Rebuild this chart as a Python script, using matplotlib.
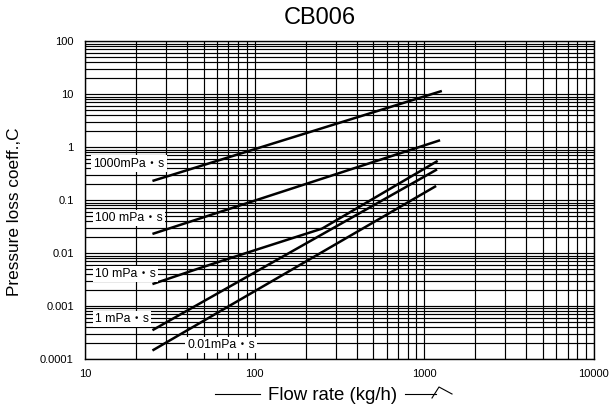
import numpy as np
import matplotlib
matplotlib.use('Agg')
import matplotlib.pyplot as plt
from matplotlib.ticker import LogLocator, NullFormatter, FixedLocator, FixedFormatter

plt.rcParams['font.family'] = ['Liberation Sans', 'Noto Sans CJK JP', 'DejaVu Sans']

# viscosity curves (flow rate kg/h, pressure loss coeff.)
x_1000 = [25, 1270]
y_1000 = [0.23, 11.5]
x_100 = [25, 1240]
y_100 = [0.023, 1.35]
x_10 = [25, 50, 100, 250, 1200]
y_10 = [0.0026, 0.0055, 0.0113, 0.029, 0.55]
x_1 = [25, 1190]
y_1 = [0.00035, 0.38]
x_001 = [25, 1175]
y_001 = [0.000145, 0.185]

series = [(x_1000, y_1000), (x_100, y_100), (x_10, y_10), (x_1, y_1), (x_001, y_001)]

labels = ['1000mPa・s', '100 mPa・s', '10 mPa・s', '1 mPa・s', '0.01mPa・s']
label_x = [11.2, 11.5, 11.5, 11.5, 40]
label_y = [0.49, 0.046, 0.0041, 0.00058, 0.000183]

xticks = [10, 100, 1000, 10000]
yticks = [0.0001, 0.001, 0.01, 0.1, 1, 10, 100]
ytick_labels = ['0.0001', '0.001', '0.01', '0.1', '1', '10', '100']

fig = plt.figure(figsize=(6.11, 4.08), dpi=100)
ax = fig.add_axes([0.139, 0.120, 0.833, 0.779])

ax.set_xscale('log')
ax.set_yscale('log')
ax.set_xlim(10, 10000)
ax.set_ylim(0.0001, 100)

ax.xaxis.set_major_locator(FixedLocator(xticks))
ax.xaxis.set_major_formatter(FixedFormatter([str(v) for v in xticks]))
ax.yaxis.set_major_locator(FixedLocator(yticks))
ax.yaxis.set_major_formatter(FixedFormatter(ytick_labels))
ax.xaxis.set_minor_locator(LogLocator(base=10, subs=np.arange(2, 10)))
ax.yaxis.set_minor_locator(LogLocator(base=10, subs=np.arange(2, 10)))
ax.xaxis.set_minor_formatter(NullFormatter())
ax.yaxis.set_minor_formatter(NullFormatter())
ax.tick_params(which='both', length=0, labelsize=8)
ax.tick_params(axis='y', pad=8)
ax.tick_params(axis='x', pad=7)

ax.grid(True, which='both', color='black', linewidth=0.85)
for s in ax.spines.values():
    s.set_linewidth(1.0)

for xs, ys in series:
    ax.plot(xs, ys, color='black', linewidth=1.8, solid_capstyle='butt', zorder=3)

for t, lx, ly in zip(labels, label_x, label_y):
    ax.text(lx, ly, t, fontsize=8.8, va='center', ha='left', zorder=4,
            bbox=dict(facecolor='white', edgecolor='none', pad=1.5))

fx = lambda p: p / 611
fy = lambda p: 1 - p / 408

fig.text(fx(320), fy(18.5), 'CB006', fontsize=17, ha='center', va='center')
fig.text(fx(15), fy(212), 'Pressure loss coeff.,C', fontsize=12.4, rotation=90,
         ha='center', va='center')

# x label with line and arrow decoration
fig.text(fx(333), fy(395), 'Flow rate (kg/h)', fontsize=13.4, ha='center', va='center')
fig.add_artist(plt.Line2D([fx(215), fx(260)], [fy(394), fy(394)], color='black', linewidth=0.8))
fig.add_artist(plt.Line2D([fx(405), fx(436)], [fy(394), fy(394)], color='black', linewidth=0.8))
fig.add_artist(plt.Line2D([fx(432), fx(439), fx(452)], [fy(398), fy(387), fy(394)],
                          color='black', linewidth=0.8))

fig.savefig('out.png', dpi=100)
